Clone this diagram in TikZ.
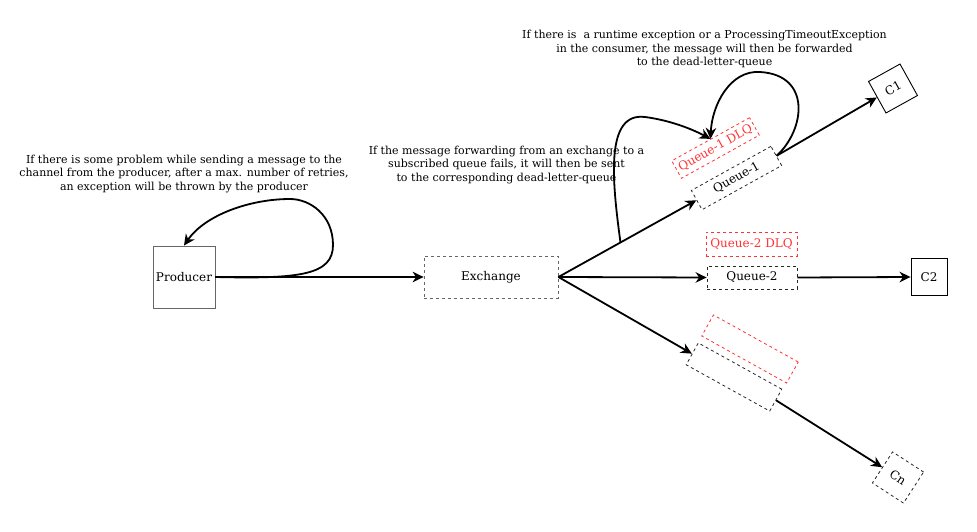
\documentclass[tikz,border=0pt]{standalone}
\usepackage{fontspec}
\setmainfont{DejaVu Serif}
\usetikzlibrary{arrows.meta,calc}
\definecolor{dlqred}{HTML}{FF3333}
\definecolor{boxgray}{HTML}{666666}
\begin{document}
\begin{tikzpicture}[x=1pt,y=-1pt,
  nodefont/.style={font=\fontsize{12}{14}\selectfont},
  solidbox/.style={draw=#1, line width=0.9pt, inner sep=0pt, nodefont},
  qbox/.style={draw=#1, line width=0.8pt, dash pattern=on 3pt off 3pt, inner sep=0pt, nodefont},
  dlq/.style={qbox=dlqred, text=dlqred},
  conn/.style={line width=1.8pt, -{Stealth[length=11pt,width=10.5pt,inset=3.5pt]}},
  note/.style={align=center, inner sep=0pt, font=\fontsize{11}{13.6}\selectfont}
]
\useasboundingbox (0,0) rectangle (977,532);

% main nodes
\node[solidbox=boxgray, minimum width=62pt, minimum height=62pt] (prod) at (184,277) {Producer};
\node[qbox=boxgray, minimum width=134pt, minimum height=42pt] (ex) at (491,277) {Exchange};

% queue 1 branch
\node[qbox=black!85, minimum width=91pt, minimum height=22pt, rotate=29] (q1) at (736.5,178) {Queue-1};
\node[dlq, minimum width=89pt, minimum height=20pt, rotate=29] (d1) at (715.5,148) {Queue-1 DLQ};
\node[solidbox=black, minimum width=36pt, minimum height=36pt, rotate=29] (c1) at (893,88.5) {C1};

% queue 2 branch
\node[qbox=black!85, minimum width=90pt, minimum height=23pt] (q2) at (752,277.5) {Queue-2};
\node[dlq, minimum width=91pt, minimum height=24pt] (d2) at (751.5,244) {Queue-2 DLQ};
\node[solidbox=black, minimum width=36pt, minimum height=37pt] (c2) at (929,277) {C2};

% queue n branch
\node[qbox=black!85, minimum width=95.5pt, minimum height=25pt, rotate=-29] (qn) at (734,377) {};
\node[dlq, minimum width=97pt, minimum height=24pt, rotate=-29] (dn) at (750,349) {};
\node[qbox=black!85, minimum width=37pt, minimum height=37pt, rotate=-33] (cn) at (898,477.5) {Cn};

% annotations
\node[note] (n1) at (184,174) {If there is some problem while sending a message to the\\channel from the producer, after a max. number of retries,\\an exception will be thrown by the producer};
\node[note] (n2) at (506.5,165) {If the message forwarding from an exchange to a\\subscribed queue fails, it will then be sent\\to the corresponding dead-letter-queue};
\node[note] (n3) at (704.5,49) {If there is\ \ a runtime exception or a ProcessingTimeoutException\\in the consumer, the message will then be forwarded\\to the dead-letter-queue};

% connectors
\draw[conn] (prod.east) -- (ex.west);
\draw[conn] (ex.east) -- (q1.west);
\draw[conn] (ex.east) -- (q2.west);
\draw[conn] (ex.east) -- (qn.west);
\draw[conn] (q1.east) -- (c1.west);
\draw[conn] (q2.east) -- (c2.west);
\draw[conn] (qn.east) -- (cn.west);

% loops
\draw[conn] (prod.east) .. controls (300,279) and (333,275) .. (333,245)
  .. controls (333,215) and (310,199) .. (290,199)
  .. controls (250,199) and (205,215) .. (prod.north);
\draw[conn] (q1.east) .. controls (805,130) and (812,75) .. (760,72)
  .. controls (730,70) and (712,105) .. (d1.north);
\coordinate (fwd) at ($(ex.east)!0.45!(q1.west)$);
\draw[conn] (fwd) .. controls (612,180) and (605,112) .. (645,117)
  .. controls (668,120) and (690,128) .. (d1.north);
\end{tikzpicture}
\end{document}
